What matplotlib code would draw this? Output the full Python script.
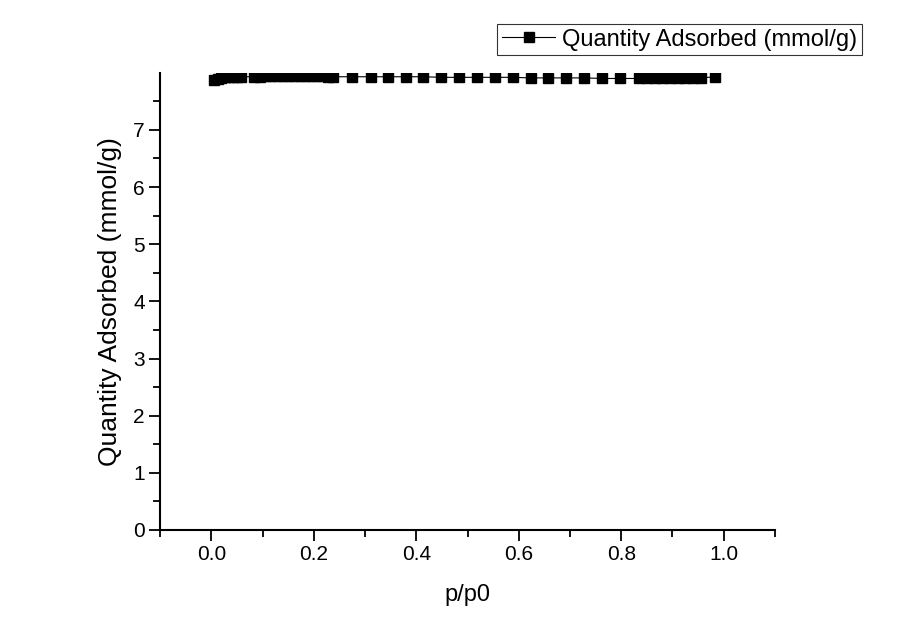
import matplotlib.pyplot as plt
from matplotlib.ticker import MultipleLocator

plt.rcParams['font.family'] = ['Liberation Sans', 'DejaVu Sans']

# relative pressure p/p0
p_rel = [0.006, 0.012, 0.019, 0.026, 0.034, 0.042, 0.05, 0.057,
         0.084, 0.095, 0.106, 0.117, 0.128, 0.139, 0.15, 0.161, 0.172,
         0.183, 0.194, 0.205, 0.216, 0.227, 0.238,
         0.274, 0.311, 0.344, 0.379, 0.414, 0.449, 0.484, 0.518, 0.554,
         0.588, 0.623, 0.658, 0.693, 0.728, 0.763, 0.798,
         0.835, 0.85, 0.865, 0.88, 0.895, 0.91, 0.925, 0.94, 0.955, 0.984]
# quantity adsorbed (mmol/g)
qty = [7.87, 7.89, 7.91, 7.92, 7.92, 7.93, 7.93, 7.93,
       7.93, 7.93, 7.94, 7.94, 7.94, 7.94, 7.94, 7.94, 7.94,
       7.94, 7.94, 7.94, 7.94, 7.93, 7.93,
       7.93, 7.93, 7.93, 7.93, 7.93, 7.92, 7.92, 7.92, 7.92,
       7.92, 7.91, 7.91, 7.91, 7.91, 7.90, 7.90,
       7.90, 7.90, 7.90, 7.90, 7.90, 7.91, 7.91, 7.91, 7.91, 7.93]

fig = plt.figure(figsize=(9, 6.36), dpi=100)
ax = fig.add_axes([0.178, 0.1667, 0.683, 0.718])

ax.plot(p_rel, qty, color='black', lw=0.8, marker='s', markersize=7,
        label='Quantity Adsorbed (mmol/g)')

ax.set_xlim(-0.1, 1.1)
ax.set_ylim(0, 7.99)
ax.xaxis.set_minor_locator(MultipleLocator(0.1))
ax.yaxis.set_major_locator(MultipleLocator(1))
ax.yaxis.set_minor_locator(MultipleLocator(0.5))
ax.set_xticks([0.0, 0.2, 0.4, 0.6, 0.8, 1.0])
ax.set_xticklabels(['0.0', '0.2', '0.4', '0.6', '0.8', '1.0'])

for s in ['top', 'right']:
    ax.spines[s].set_visible(False)
for s in ['left', 'bottom']:
    ax.spines[s].set_linewidth(1.5)

ax.tick_params(which='major', direction='out', length=8, width=1.3, labelsize=15)
ax.tick_params(axis='x', which='major', pad=3)
ax.tick_params(axis='y', which='major', pad=3)
ax.tick_params(which='minor', direction='out', length=5, width=1.3)

ax.set_xlabel('p/p0', fontsize=17, labelpad=14)
ax.set_ylabel('Quantity Adsorbed (mmol/g)', fontsize=19, labelpad=8)

leg = fig.legend(loc='upper right', bbox_to_anchor=(862 / 900, 1 - 24 / 636),
                 fontsize=17, fancybox=False, frameon=True, borderpad=0.2,
                 handlelength=2.25, handletextpad=0.3, borderaxespad=0)
leg.get_frame().set_edgecolor('black')
leg.get_frame().set_linewidth(0.8)

plt.savefig('out.png', dpi=100)
